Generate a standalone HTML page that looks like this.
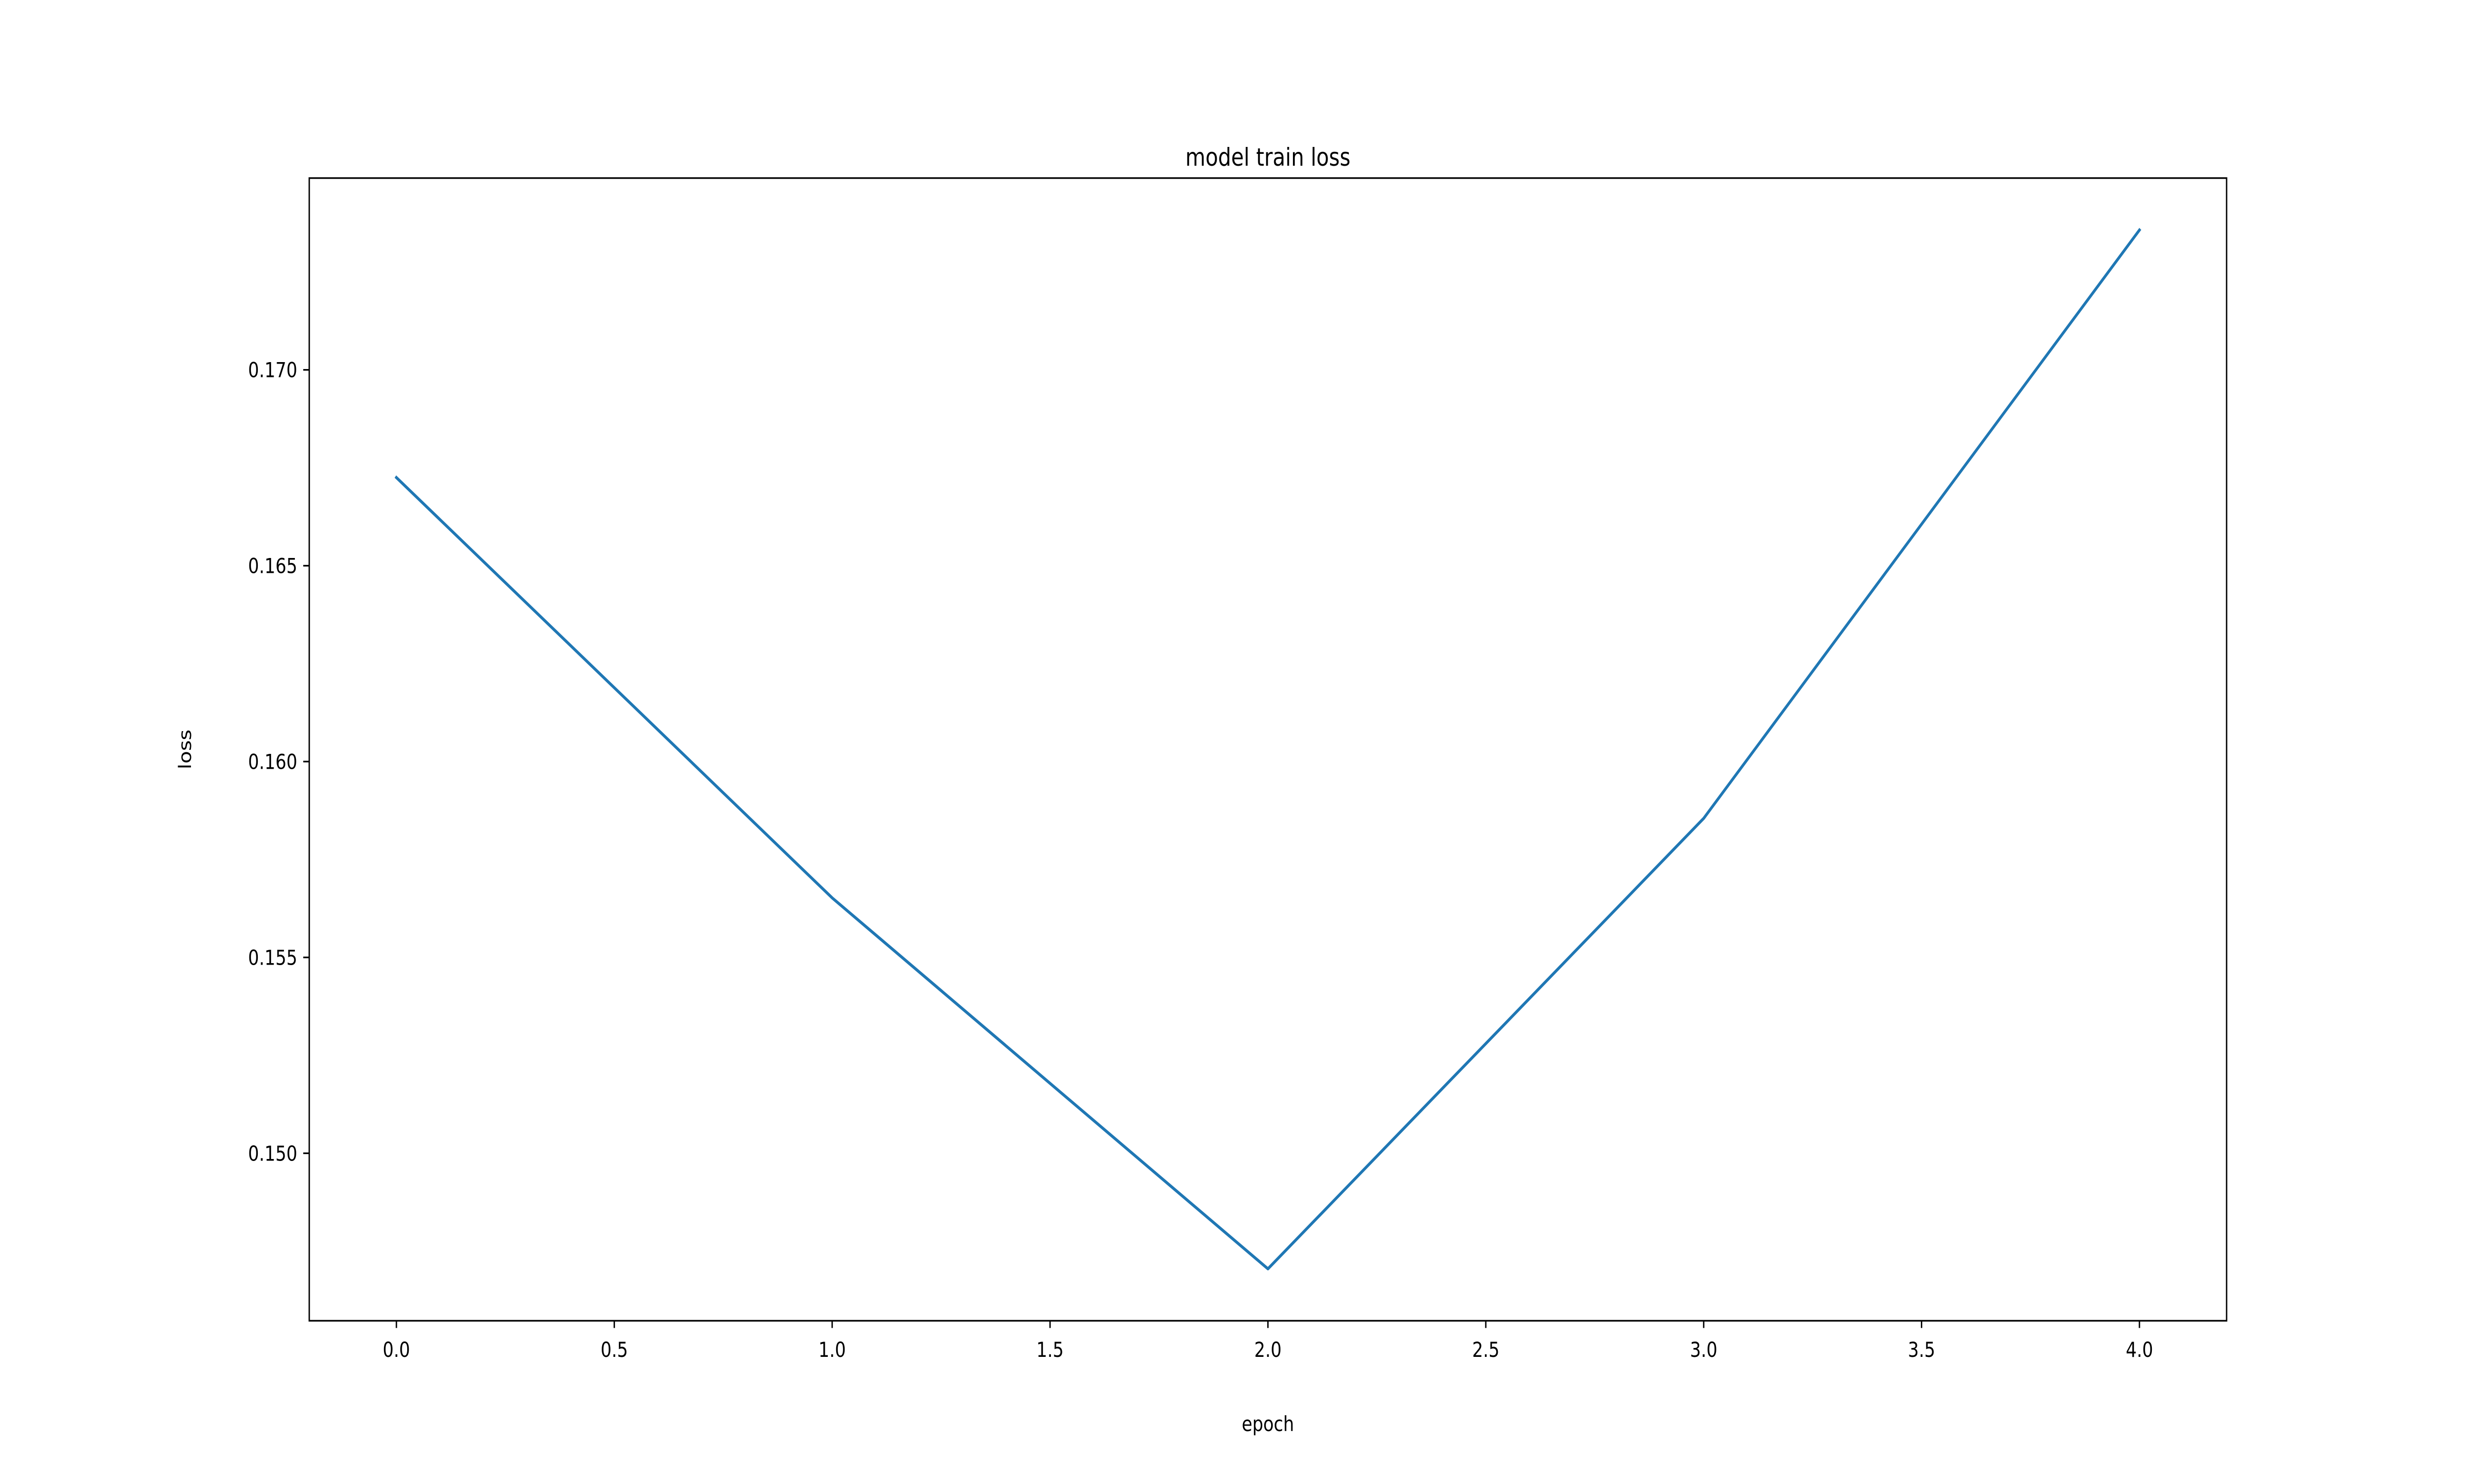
<!DOCTYPE html>
<html><head><meta charset="utf-8"><style>html,body{margin:0;padding:0;background:#fff;width:100%;height:100%;overflow:hidden}svg{display:block;width:100vw;height:100vh}</style></head>
<body>
<svg id="chart" xmlns="http://www.w3.org/2000/svg" viewBox="0 0 6000 3000" preserveAspectRatio="none" font-family="'DejaVu Sans','Liberation Sans',sans-serif">
<rect width="6000" height="3000" fill="#fff"/>
<text x="3075" y="335" font-size="50" text-anchor="middle">model train loss</text>
<text x="3075" y="2893" font-size="41.7" text-anchor="middle">epoch</text>
<text x="0" y="0" font-size="41.7" text-anchor="middle" transform="translate(463,1515) rotate(-90)">loss</text>
<g id="ticks"></g>
<polyline id="series" fill="none" stroke="#1f77b4" stroke-width="6.25" stroke-linejoin="round" stroke-linecap="square"/>
<rect x="750" y="360" width="4650" height="2310" fill="none" stroke="#000" stroke-width="3.33"/>
</svg>
<script>
const epochs = [0, 1, 2, 3, 4];
const lossValues = [0.16725, 0.15652, 0.14705, 0.15855, 0.17357];
const xTickValues = [0, 0.5, 1, 1.5, 2, 2.5, 3, 3.5, 4];
const xTickLabels = ["0.0","0.5","1.0","1.5","2.0","2.5","3.0","3.5","4.0"];
const yTickValues = [0.150, 0.155, 0.160, 0.165, 0.170];
const yTickLabels = ["0.150","0.155","0.160","0.165","0.170"];

const L=750,R=5400,T=360,B=2670;
const xmin=Math.min(...epochs),xmax=Math.max(...epochs),xm=(xmax-xmin)*0.05;
const ymin=Math.min(...lossValues),ymax=Math.max(...lossValues),ym=(ymax-ymin)*0.05;
const xs=v=>L+(v-(xmin-xm))/((xmax+xm)-(xmin-xm))*(R-L);
const ys=v=>B-(v-(ymin-ym))/((ymax+ym)-(ymin-ym))*(B-T);
const NS="http://www.w3.org/2000/svg";
const g=document.getElementById('ticks');
function mk(tag,attrs){const e=document.createElementNS(NS,tag);for(const k in attrs)e.setAttribute(k,attrs[k]);return e;}
xTickValues.forEach((v,i)=>{
  const x=xs(v);
  const t=mk('line',{x1:x,x2:x,y1:B,y2:B+14.6,stroke:'#000','stroke-width':3.33});
  
  
  g.appendChild(t);
  const l=mk('text',{x:x,y:B+73,'font-size':41.7,'text-anchor':'middle'});
  
  
  l.textContent=xTickLabels[i];g.appendChild(l);
});
yTickValues.forEach((v,i)=>{
  const y=ys(v);
  const t=mk('line',{x1:L-14.6,x2:L,y1:y,y2:y,stroke:'#000','stroke-width':3.33});
  
  
  g.appendChild(t);
  const l=mk('text',{x:L-29,y:y+15,'font-size':41.7,'text-anchor':'end'});
  
  
  l.textContent=yTickLabels[i];g.appendChild(l);
});
document.getElementById('series').setAttribute('points',epochs.map((e,i)=>xs(e)+','+ys(lossValues[i])).join(' '));
</script>
</body></html>
